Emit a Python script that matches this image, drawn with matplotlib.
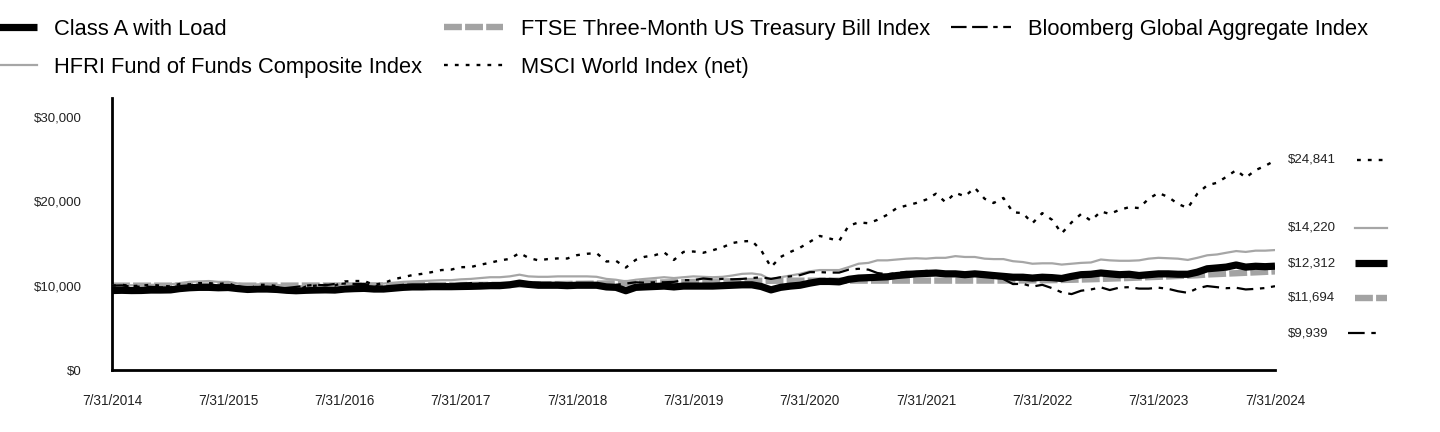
import matplotlib
matplotlib.use("Agg")
import matplotlib.pyplot as plt
from matplotlib.lines import Line2D
import pandas as pd

plt.rcParams['font.family'] = ['Liberation Sans', 'DejaVu Sans']

# month-end dates, 7/31/2014 .. 7/31/2024
dates = pd.date_range('2014-07-31', '2024-07-31', freq='ME')

# growth of $10,000 (monthly)
class_a = [
    9425, 9450, 9420, 9430, 9480, 9480,
    9500, 9650, 9750, 9800, 9800, 9750, 9780, 9650, 9550, 9600, 9600, 9550,
    9450, 9400, 9450, 9480, 9500, 9480, 9600, 9650, 9680, 9600, 9600, 9700,
    9800, 9850, 9850, 9880, 9880, 9880, 9900, 9920, 9950, 10000, 10000, 10100,
    10300, 10150, 10050, 10050, 10050, 10000, 10050, 10050, 10050, 9850, 9800, 9400,
    9800, 9850, 9900, 9950, 9850, 9950, 9950, 9950, 9950, 10000, 10050, 10100,
    10100, 9900, 9500, 9800, 9950, 10050, 10300, 10500, 10500, 10450, 10750, 10900,
    10950, 11000, 11050, 11200, 11300, 11400, 11450, 11500, 11400, 11400, 11300, 11400,
    11300, 11200, 11100, 11000, 11000, 10900, 11000, 10950, 10850, 11100, 11300, 11350,
    11500, 11400, 11300, 11350, 11200, 11300, 11400, 11400, 11350, 11350, 11600, 12000,
    12100, 12200, 12450, 12200, 12300, 12250, 12312,
]

hfri = [
    10000, 10050, 10050, 10000, 10100, 10100,
    10150, 10300, 10450, 10500, 10550, 10450, 10450, 10250, 10100, 10150, 10200, 10100,
    9950, 9900, 9950, 10000, 10050, 10000, 10150, 10200, 10250, 10200, 10250, 10350,
    10450, 10500, 10550, 10600, 10650, 10650, 10750, 10800, 10900, 11000, 11000, 11100,
    11300, 11100, 11050, 11050, 11100, 11100, 11100, 11100, 11050, 10800, 10700, 10500,
    10700, 10800, 10900, 11000, 10900, 11000, 11100, 11050, 11000, 11050, 11200, 11400,
    11450, 11300, 10700, 11000, 11200, 11400, 11700, 11850, 11850, 11850, 12200, 12600,
    12700, 13000, 13000, 13100, 13200, 13250, 13200, 13300, 13300, 13500, 13400, 13400,
    13200, 13150, 13150, 12900, 12800, 12600, 12650, 12650, 12500, 12600, 12700, 12750,
    13100, 13000, 12950, 12950, 13000, 13200, 13300, 13250, 13200, 13050, 13300, 13600,
    13700, 13900, 14100, 14000, 14150, 14150, 14220,
]

ftse_tbill = [
    10000, 10000, 10000, 10000, 10000, 10001,
    10001, 10001, 10001, 10001, 10001, 10002, 10002, 10002, 10002, 10002, 10003, 10004,
    10006, 10008, 10010, 10012, 10014, 10016, 10018, 10020, 10022, 10024, 10027, 10031,
    10036, 10041, 10047, 10053, 10060, 10067, 10074, 10081, 10088, 10095, 10105, 10115,
    10128, 10141, 10155, 10170, 10185, 10200, 10215, 10230, 10245, 10260, 10280, 10303,
    10322, 10342, 10362, 10382, 10402, 10422, 10442, 10462, 10482, 10500, 10518, 10535,
    10550, 10565, 10578, 10586, 10589, 10590, 10591, 10592, 10593, 10594, 10595, 10596,
    10596, 10597, 10597, 10598, 10598, 10598, 10599, 10599, 10599, 10600, 10600, 10601,
    10602, 10603, 10606, 10610, 10618, 10628, 10640, 10655, 10675, 10700, 10728, 10760,
    10798, 10835, 10875, 10915, 10960, 11005, 11050, 11098, 11145, 11190, 11235, 11326,
    11375, 11425, 11475, 11530, 11580, 11635, 11694,
]

bbg_global_agg = [
    10000, 10030, 9880, 9880, 9860, 9800,
    9800, 9720, 9640, 9720, 9600, 9580, 9620, 9640, 9700, 9720, 9600, 9640,
    9730, 9850, 10000, 10100, 10050, 10200, 10250, 10200, 10200, 10000, 9800, 9800,
    9900, 9950, 10000, 10050, 10150, 10150, 10250, 10300, 10250, 10200, 10250, 10300,
    10350, 10300, 10350, 10250, 10200, 10150, 10150, 10150, 10100, 10050, 10100, 10250,
    10400, 10350, 10400, 10400, 10450, 10650, 10650, 10850, 10750, 10800, 10750, 10800,
    10900, 11000, 10800, 11000, 11100, 11250, 11600, 11600, 11550, 11550, 11900, 12000,
    11900, 11500, 11350, 11500, 11650, 11600, 11750, 11700, 11500, 11500, 11450, 11450,
    11220, 11090, 10780, 10190, 10220, 9890, 10100, 9700, 9210, 9000, 9400, 9550,
    9800, 9480, 9780, 9820, 9650, 9650, 9760, 9620, 9340, 9150, 9680, 9950,
    9820, 9700, 9750, 9550, 9620, 9720, 9939,
]

msci_world = [
    10000, 10100, 9950, 10000, 10100, 10000,
    9900, 10200, 10150, 10300, 10300, 10200, 10300, 9800, 9500, 10100, 10100, 9950,
    9400, 9350, 9900, 10000, 10100, 10000, 10500, 10550, 10550, 10100, 10300, 10750,
    11010, 11250, 11400, 11600, 11850, 11900, 12190, 12210, 12480, 12720, 12990, 13170,
    13870, 13300, 13000, 13150, 13230, 13220, 13620, 13780, 13860, 12860, 12950, 12150,
    13060, 13420, 13600, 13950, 13050, 14000, 14050, 13900, 14200, 14550, 15050, 15250,
    15300, 14200, 12200, 13400, 14000, 14500, 15200, 15900, 15600, 15300, 17100, 17500,
    17400, 17800, 18400, 19200, 19500, 19800, 20200, 20900, 19900, 21000, 20600, 21600,
    20300, 19800, 20400, 18700, 18600, 17400, 18600, 17800, 16200, 17500, 18500, 17700,
    18800, 18500, 19000, 19300, 19200, 20300, 21000, 20500, 19700, 19200, 20900, 21900,
    22200, 22900, 23700, 22800, 23700, 24200, 24841,
]

series_names = [
    'Class A with Load',
    'HFRI Fund of Funds Composite Index',
    'FTSE Three-Month US Treasury Bill Index',
    'MSCI World Index (net)',
    'Bloomberg Global Aggregate Index',
]
end_labels = ['$24,841', '$14,220', '$12,312', '$11,694', '$9,939']

tick_dates = pd.date_range('2014-07-31', '2024-07-31', freq='12ME')
tick_labels = [f'{d.month}/{d.day}/{d.year}' for d in tick_dates]
y_ticks = [0, 10000, 20000, 30000]

# line styles
sty_class_a = dict(color='black', lw=5.2, solid_capstyle='butt')
sty_hfri = dict(color='#a6a6a6', lw=1.6)
sty_tbill = dict(color='#a3a3a3', lw=4.6, dashes=(2.8, 0.5), dash_capstyle='butt')
sty_msci = dict(color='black', lw=1.7, dashes=(1.6, 3.0), dash_capstyle='butt')
sty_bbg = dict(color='black', lw=1.6, dashes=(7.5, 3.0, 2.0, 3.0), dash_capstyle='butt')

fig = plt.figure(figsize=(14.4, 4.32), dpi=100)
ax = fig.add_axes([112 / 1440, 62 / 432, (1275 - 112) / 1440, (370 - 98) / 432])

ax.plot(dates, ftse_tbill, zorder=2, **sty_tbill)
ax.plot(dates, class_a, zorder=3, **sty_class_a)
ax.plot(dates, hfri, zorder=4, **sty_hfri)
ax.plot(dates, bbg_global_agg, zorder=5, **sty_bbg)
ax.plot(dates, msci_world, zorder=6, **sty_msci)

ax.set_xlim(dates[0], dates[-1])
ax.set_ylim(0, 32250)
ax.set_xticks(tick_dates)
ax.set_xticklabels(tick_labels)
ax.set_yticks(y_ticks)
ax.set_yticklabels([f'${v:,.0f}' for v in y_ticks])
ax.tick_params(axis='x', length=0, pad=17, labelsize=9.8, colors='#222222')
ax.tick_params(axis='y', length=0, pad=22, labelsize=9.5, colors='#222222')
for side in ['top', 'right']:
    ax.spines[side].set_visible(False)
for side in ['left', 'bottom']:
    ax.spines[side].set_linewidth(2)
    ax.spines[side].set_color('black')

# top legend (column-wise fill: col1 = Class A, HFRI; col2 = FTSE, MSCI; col3 = BBG)
handles = [
    Line2D([], [], **sty_class_a),
    Line2D([], [], **sty_hfri),
    Line2D([], [], **sty_tbill),
    Line2D([], [], **sty_msci),
    Line2D([], [], **{**sty_bbg, 'dashes': (7.0, 2.5, 7.0, 2.5, 2.0, 2.5)}),
]
fig.legend(handles, series_names, loc='upper left', bbox_to_anchor=(-23 / 1440, 1 - 19 / 432),
           ncol=3, frameon=False, fontsize=15.75, handlelength=2.72, handletextpad=0.8,
           columnspacing=0.98, labelspacing=0.78, borderpad=0, borderaxespad=0)

# ending values on the right
label_y = [160, 228, 263, 298, 333]
key_styles = [sty_msci, sty_hfri, sty_class_a, sty_tbill, sty_bbg]
key_x = [(1357, 1384), (1355, 1387), (1355, 1387), (1355, 1387), (1348, 1380)]
for lab, yy, st, (x0, x1) in zip(end_labels, label_y, key_styles, key_x):
    fy = 1 - yy / 432
    fig.text(1288 / 1440, fy, lab, fontsize=9.5, va='center', ha='left', color='#222222')
    fig.add_artist(Line2D([x0 / 1440, x1 / 1440], [fy, fy], transform=fig.transFigure, **st))

fig.savefig('out.png', dpi=100)
